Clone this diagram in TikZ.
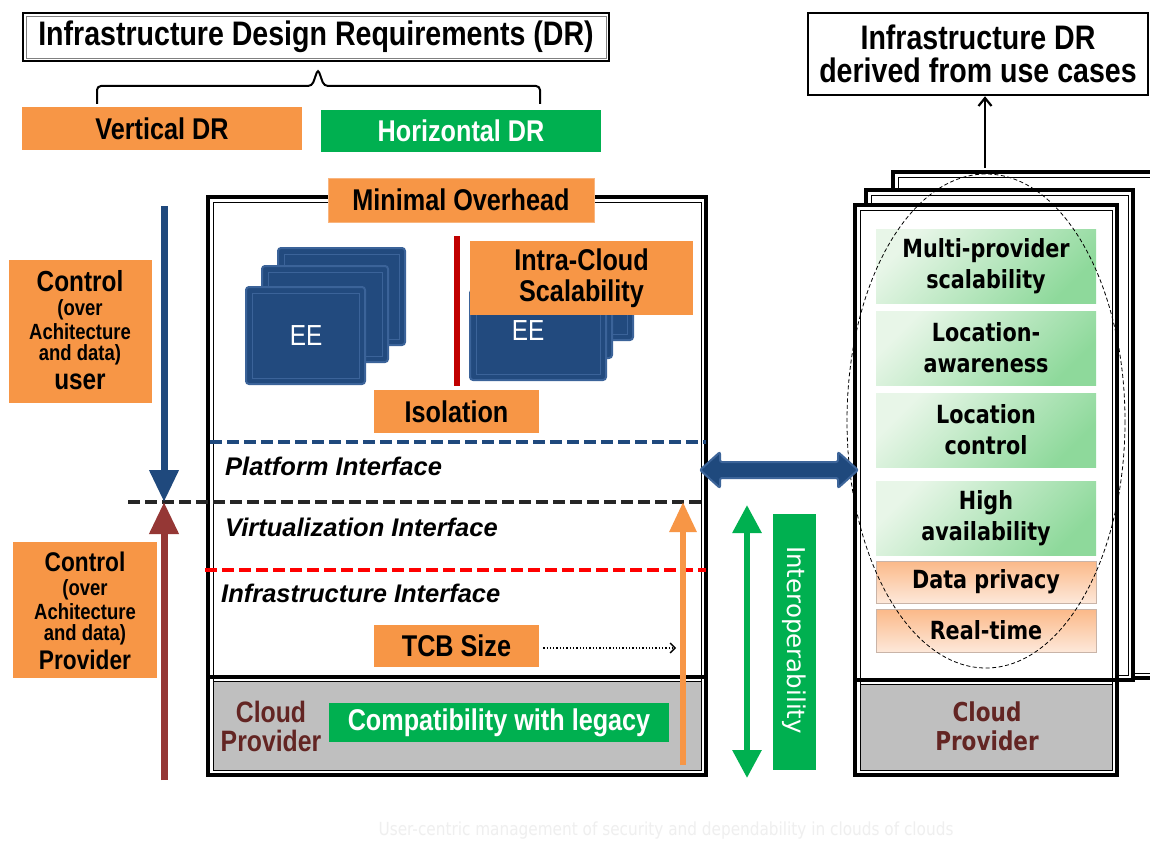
\documentclass[tikz,border=0pt]{standalone}
\usepackage{fontspec}
\setmainfont{Liberation Sans}
\newfontfamily\arialn[FakeStretch=0.84]{Liberation Sans}
\newfontfamily\verd{DejaVu Sans}
\newfontfamily\verdn[FakeStretch=0.83]{DejaVu Sans}
\newfontfamily\footf[FakeStretch=0.85]{DejaVu Sans}
\usetikzlibrary{arrows.meta,shapes.geometric,calc}
\definecolor{orng}{HTML}{F79646}
\definecolor{grn}{HTML}{00B050}
\definecolor{navy}{HTML}{1F497D}
\definecolor{navyL}{HTML}{3D659A}
\definecolor{eeblue}{HTML}{224A7E}
\definecolor{eeedge}{HTML}{3B6399}
\definecolor{redline}{HTML}{C00000}
\definecolor{brownar}{HTML}{953735}
\definecolor{cloudtxt}{HTML}{632523}
\definecolor{grayfill}{HTML}{BFBFBF}
\definecolor{dashblk}{HTML}{262626}
\definecolor{gL}{HTML}{E8F6E8}
\definecolor{gD}{HTML}{8ED99B}
\definecolor{pD}{HTML}{FBB988}
\definecolor{pL}{HTML}{FDE8DA}
\definecolor{pB}{HTML}{C9B4A8}
\definecolor{footc}{HTML}{EFEFEF}
\newcommand\myfs[1]{\fontsize{#1}{#1}\selectfont}
\newcommand\eesq[4]{%
  \draw[eebox] (#1,#2) rectangle (#3,#4);
  \draw[eein] (#1+6,#2+6) rectangle (#3-6,#4-6);}
\begin{document}
\begin{tikzpicture}[x=1pt,y=-1pt,
  obox/.style={fill=orng, inner sep=0pt, font=\arialn\bfseries\myfs{30}},
  gbox/.style={fill=grn, text=white, inner sep=0pt, font=\arialn\bfseries\myfs{30}},
  ln/.style={font=\arialn\bfseries\myfs{29}, inner sep=0pt},
  lsm/.style={font=\arialn\bfseries\myfs{22}, inner sep=0pt},
  itf/.style={font=\bfseries\itshape\myfs{25.5}, inner sep=0pt, anchor=west},
  gshade/.style={top color=gL, bottom color=gD, shading angle=45, inner sep=0pt,
    font=\verdn\bfseries\fontsize{25}{31}\selectfont, align=center, minimum width=220pt},
  pshade/.style={top color=pD, bottom color=pL, draw=pB, line width=1pt, inner sep=0pt,
    font=\verdn\bfseries\myfs{25}, minimum width=220pt},
  eebox/.style={fill=eeblue, draw=eeedge, line width=2pt, rounded corners=3pt},
  eein/.style={draw=eeedge, line width=0.8pt},
  frame/.style={fill=white, draw=black, line width=3.5pt},
  ctxt/.style={text=cloudtxt, inner sep=0pt}
]
\useasboundingbox (0,0) rectangle (1150,840);
\fill[white] (0,0) rectangle (1150,840);

% ---------- top left title and brace ----------
\node[draw=black, line width=1.5pt, minimum width=586pt, minimum height=48pt, inner sep=0pt,
      font=\arialn\bfseries\myfs{34}] (title) at (316,37) {Infrastructure Design Requirements (DR)};
\draw[gray, line width=0.6pt] (26,16) rectangle (606,58);
\draw[line width=2pt, rounded corners=4pt] (97,104) -- (97,86) -- (312,86) -- (318,69) -- (324,86) -- (540,86) -- (540,104);
\node[obox, minimum width=280pt, minimum height=43pt] (vdr) at (162,128.5) {Vertical DR};
\node[gbox, minimum width=280pt, minimum height=42pt] (hdr) at (461,131) {Horizontal DR};

% ---------- main left box ----------
\draw[frame] (208,197) rectangle (706,775);
\draw[line width=0.8pt] (213,202) rectangle (701,770);
\fill[grayfill] (213,681) rectangle (701,770);
\draw[line width=0.8pt] (213,681) rectangle (701,770);
\draw[line width=3.5pt] (208,677) -- (706,677);

% EE stacks
\eesq{278}{248}{405}{345}
\eesq{262}{266}{388}{362}
\eesq{246}{287}{365}{384}
\node[text=white, font=\arialn\myfs{29}] (ee1) at (306,336) {EE};
\eesq{505}{270}{633}{340}
\eesq{488}{280}{612}{358}
\eesq{470}{290}{606}{380}
\node[text=white, font=\arialn\myfs{29}] (ee2) at (528,331) {EE};
\draw[redline, line width=6pt] (457,236) -- (457,386);

\node[obox, draw=orng!70!white, line width=1pt, minimum width=266pt, minimum height=44pt] (minov) at (461,200) {Minimal Overhead};
\node[obox, minimum width=223pt, minimum height=74pt, align=center, font=\arialn\bfseries\fontsize{30}{31}\selectfont] (intra) at (581.5,278) {Intra-Cloud\\Scalability};
\node[obox, minimum width=165pt, minimum height=43pt] (iso) at (456.5,411.5) {Isolation};

% interfaces
\draw[navy, line width=3.5pt, dash pattern=on 12pt off 5pt] (210,442) -- (706,442);
\node[itf] (pif) at (225,466) {Platform Interface};
\draw[dashblk, line width=4pt, dash pattern=on 12pt off 5pt] (128,502) -- (706,502);
\node[itf] (vif) at (225,527) {Virtualization Interface};
\draw[red, line width=3.5pt, dash pattern=on 12pt off 5pt] (205,570) -- (706,570);
\node[itf] (iif) at (221,593) {Infrastructure Interface};

\node[obox, minimum width=165pt, minimum height=42pt] (tcb) at (456.5,646) {TCB Size};
\coordinate (dotend) at (676,648);
\draw[line width=1.3pt, dotted, -{Straight Barb[length=5pt,width=10pt]}] (tcb.east) ++(4,2) -- (dotend);

% cloud provider left
\node[ctxt, font=\arialn\bfseries\myfs{29.5}] (cp1a) at (271,712) {Cloud};
\node[ctxt, font=\arialn\bfseries\myfs{29.5}] (cp1b) at (271,741) {Provider};
\node[gbox, minimum width=340pt, minimum height=39pt] (compat) at (499,722.5) {Compatibility with legacy};

% orange up arrow
\coordinate (oaB) at (683,765);
\coordinate (oaT) at (683,502);
\draw[orng, line width=6pt, -{Triangle[length=30pt,width=26pt]}] (oaB) -- (oaT);

% ---------- left control ----------
\coordinate (baT) at (164,206);
\coordinate (mid) at (164,502);
\coordinate (raB) at (164,780);
\draw[navy, line width=7pt, -{Triangle[length=32pt,width=28pt]}] (baT) -- (mid);
\draw[brownar, line width=7pt, -{Triangle[length=32pt,width=28pt]}] (raB) -- (mid);

\node[fill=orng, minimum width=143pt, minimum height=143pt, inner sep=0pt] (ctrlU) at (80.5,331.5) {};
\node[ln] (cu1) at (80,281) {Control};
\node[lsm] (cu2) at (80,310) {(over};
\node[lsm] (cu3) at (80,332) {Achitecture};
\node[lsm] (cu4) at (80,355) {and data)};
\node[ln] (cu5) at (80,382) {user};

\node[fill=orng, minimum width=144pt, minimum height=136pt, inner sep=0pt] (ctrlP) at (85,610) {};
\node[ln, font=\arialn\bfseries\myfs{27}] (cp1) at (85,562) {Control};
\node[lsm] (cp2) at (85,590) {(over};
\node[lsm] (cp3) at (85,612) {Achitecture};
\node[lsm] (cp4) at (85,635) {and data)};
\node[ln, font=\arialn\bfseries\myfs{27}] (cp5) at (85,660) {Provider};

% ---------- right side ----------
\node[draw=black, line width=2.5pt, minimum width=340pt, minimum height=82pt, inner sep=0pt,
      font=\arialn\bfseries\fontsize{34}{33}\selectfont, align=center] (rtop) at (978,54) {Infrastructure DR\\derived from use cases};

\draw[frame] (893,172) rectangle (1170,678);
\draw[line width=0.8pt] (898,177) rectangle (1165,673);
\draw[frame] (866,190) rectangle (1133,680);
\draw[line width=0.8pt] (871,195) rectangle (1128,675);
\draw[frame] (855,205) rectangle (1117,775);
\draw[line width=0.8pt] (860,210) rectangle (1112,770);
\fill[grayfill] (860,684) rectangle (1112,770);
\draw[line width=0.8pt] (860,684) rectangle (1112,770);
\draw[line width=3.5pt] (855,680) -- (1117,680);

\coordinate (upB) at (985,168);
\draw[line width=2.2pt, -{Straight Barb[length=8pt,width=13pt]}] (upB) -- (upB |- rtop.south);

\node[gshade, minimum height=74pt] (mps) at (986,266) {Multi-provider\\scalability};
\node[gshade, minimum height=74pt] (la) at (986,348) {Location-\\awareness};
\node[gshade, minimum height=74pt] (lc) at (986,430) {Location\\control};
\node[gshade, minimum height=74pt] (ha) at (986,518) {High\\availability};
\node[pshade, minimum height=42pt] (dp) at (986,582) {Data privacy};
\node[pshade, minimum height=43pt] (rt) at (986,630.5) {Real-time};

\node[ctxt, font=\verdn\bfseries\myfs{26}] (cp2a) at (987,712) {Cloud};
\node[ctxt, font=\verdn\bfseries\myfs{26}] (cp2b) at (987,741) {Provider};

\draw[black, line width=0.8pt, dash pattern=on 4pt off 2.5pt] (986,421) ellipse [x radius=139, y radius=247];

% blue double arrow
\coordinate (bdaL) at (700,470);
\coordinate (bdaR) at (858,470);
\draw[fill=navy, draw=navyL, line width=2pt, rounded corners=2pt]
  (bdaL) -- ++(20,-18) -- ++(0,10) -- ($(bdaR)+(-20,-8)$) -- ++(0,-10) -- (bdaR)
  -- ++(-20,18) -- ++(0,-10) -- ($(bdaL)+(20,8)$) -- ++(0,10) -- cycle;

% green double arrow and interoperability
\coordinate (gaT) at (747,505);
\coordinate (gaB) at (747,778);
\draw[grn, line width=6pt, {Triangle[length=28pt,width=28pt]}-{Triangle[length=28pt,width=28pt]}] (gaT) -- (gaB);
\node[fill=grn, minimum width=43pt, minimum height=256pt, inner sep=0pt] (interop) at (794.5,642) {};
\node[text=white, rotate=-90, font=\verd\myfs{24.5}, inner sep=0pt] (interopT) at (794.5,640) {Interoperability};

% footer
\node[text=footc, font=\footf\myfs{18}] (foot) at (666,831) {User-centric management of security and dependability in clouds of clouds};
\end{tikzpicture}
\end{document}
